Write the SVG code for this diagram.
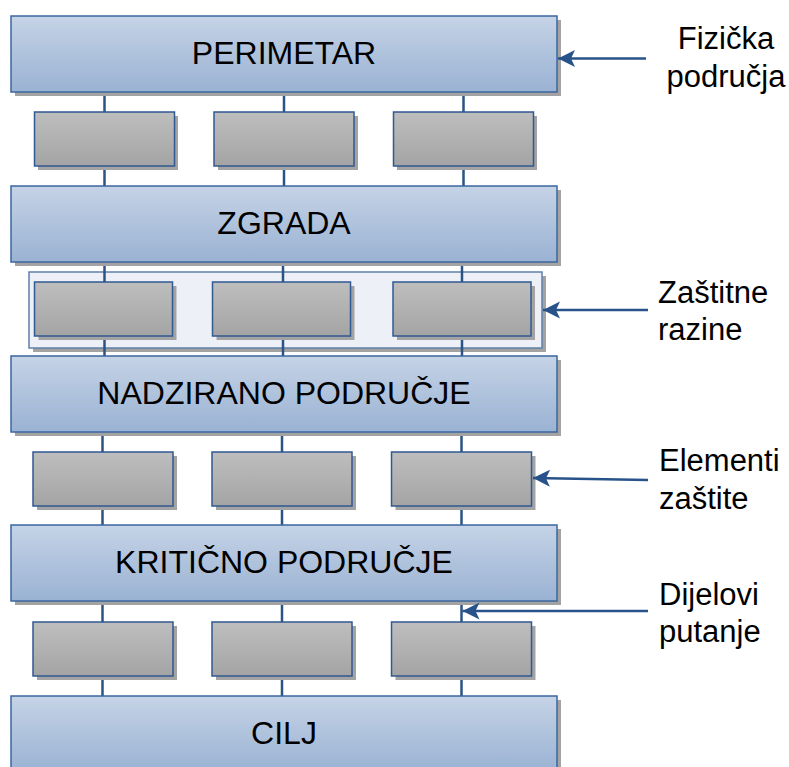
<svg xmlns="http://www.w3.org/2000/svg" width="789" height="767" viewBox="0 0 789 767">
<defs>
<linearGradient id="gBlue" x1="0" y1="0" x2="0" y2="1"><stop offset="0" stop-color="#C5D3E6"/><stop offset="1" stop-color="#9AB2D3"/></linearGradient>
<linearGradient id="gGray" x1="0" y1="0" x2="0" y2="1"><stop offset="0" stop-color="#BEBEBE"/><stop offset="1" stop-color="#A4A4A4"/></linearGradient>
<marker id="arr" markerUnits="userSpaceOnUse" markerWidth="20" markerHeight="20" refX="17" refY="8.5" orient="auto"><path d="M17,8.5 L0,0 L4,8.5 L0,17 Z" fill="#28528A"/></marker>
</defs>
<style>
.big{fill:url(#gBlue);stroke:#3A67A0;stroke-width:1.5}
.sm{fill:url(#gGray);stroke:#2F5A92;stroke-width:1.5}
.sh{fill:#A3A3A3}
.cont{fill:#EDF1F7;stroke:#5F80AA;stroke-width:1.5}
.con line{stroke:#2B5384;stroke-width:2.5}
.arrow{stroke:#28528A;stroke-width:2.5;fill:none;marker-end:url(#arr)}
.lbl{font-family:"Liberation Sans",Arial,sans-serif;font-size:32px;fill:#000;text-anchor:middle}
.side{font-family:"Liberation Sans",Arial,sans-serif;font-size:31px;fill:#000}
</style>
<rect width="789" height="767" fill="#fff"/>
<g id="container">
<rect class="sh" x="33" y="276" width="513" height="76"/>
<rect class="cont" x="29" y="272" width="513" height="76"/>
</g>
<g class="con" id="connectors">
<line x1="104.5" y1="92" x2="104.5" y2="112"/><line x1="284" y1="92" x2="284" y2="112"/><line x1="463.5" y1="92" x2="463.5" y2="112"/>
<line x1="104.5" y1="166" x2="104.5" y2="186"/><line x1="284" y1="166" x2="284" y2="186"/><line x1="463.5" y1="166" x2="463.5" y2="186"/>
<line x1="104.5" y1="262" x2="104.5" y2="282"/><line x1="283" y1="262" x2="283" y2="282"/><line x1="462" y1="262" x2="462" y2="282"/>
<line x1="104.5" y1="336" x2="104.5" y2="356"/><line x1="283" y1="336" x2="283" y2="356"/><line x1="462" y1="336" x2="462" y2="356"/>
<line x1="102.5" y1="432" x2="102.5" y2="452"/><line x1="282" y1="432" x2="282" y2="452"/><line x1="461.5" y1="432" x2="461.5" y2="452"/>
<line x1="102.5" y1="506" x2="102.5" y2="525"/><line x1="282" y1="506" x2="282" y2="525"/><line x1="461.5" y1="506" x2="461.5" y2="525"/>
<line x1="102.5" y1="601" x2="102.5" y2="622"/><line x1="282" y1="601" x2="282" y2="622"/><line x1="461.5" y1="601" x2="461.5" y2="622"/>
<line x1="102.5" y1="676" x2="102.5" y2="696"/><line x1="282" y1="676" x2="282" y2="696"/><line x1="461.5" y1="676" x2="461.5" y2="696"/>
</g>
<g id="perimetar"><rect class="sh" x="15" y="20" width="546" height="76"/><rect class="big" x="11" y="16" width="546" height="76"/><text class="lbl" x="284" y="64">PERIMETAR</text></g>
<g id="r1a"><rect class="sh" x="38" y="116" width="140" height="54"/><rect class="sm" x="34.5" y="112" width="140" height="54"/></g>
<g id="r1b"><rect class="sh" x="218" y="116" width="140" height="54"/><rect class="sm" x="214" y="112" width="140" height="54"/></g>
<g id="r1c"><rect class="sh" x="397" y="116" width="140" height="54"/><rect class="sm" x="393.5" y="112" width="140" height="54"/></g>
<g id="zgrada"><rect class="sh" x="15" y="190" width="546" height="76"/><rect class="big" x="11" y="186" width="546" height="76"/><text class="lbl" x="284" y="234">ZGRADA</text></g>
<g id="r2a"><rect class="sh" x="38.5" y="286" width="138" height="54"/><rect class="sm" x="34.5" y="282" width="138" height="54"/></g>
<g id="r2b"><rect class="sh" x="216.5" y="286" width="138" height="54"/><rect class="sm" x="212.5" y="282" width="138" height="54"/></g>
<g id="r2c"><rect class="sh" x="397" y="286" width="138" height="54"/><rect class="sm" x="393" y="282" width="138" height="54"/></g>
<g id="nadzirano"><rect class="sh" x="15" y="360" width="546" height="76"/><rect class="big" x="11" y="356" width="546" height="76"/><text class="lbl" x="284" y="404">NADZIRANO PODRUČJE</text></g>
<g id="r3a"><rect class="sh" x="37" y="456" width="140" height="54"/><rect class="sm" x="33" y="452" width="140" height="54"/></g>
<g id="r3b"><rect class="sh" x="216" y="456" width="140" height="54"/><rect class="sm" x="212" y="452" width="140" height="54"/></g>
<g id="r3c"><rect class="sh" x="395.5" y="456" width="140" height="54"/><rect class="sm" x="391.5" y="452" width="140" height="54"/></g>
<g id="kriticno"><rect class="sh" x="15" y="529" width="546" height="76"/><rect class="big" x="11" y="525" width="546" height="76"/><text class="lbl" x="284" y="573">KRITIČNO PODRUČJE</text></g>
<g id="r4a"><rect class="sh" x="37" y="626" width="140" height="54"/><rect class="sm" x="33" y="622" width="140" height="54"/></g>
<g id="r4b"><rect class="sh" x="216" y="626" width="140" height="54"/><rect class="sm" x="212" y="622" width="140" height="54"/></g>
<g id="r4c"><rect class="sh" x="395.5" y="626" width="140" height="54"/><rect class="sm" x="391.5" y="622" width="140" height="54"/></g>
<g id="cilj"><rect class="sh" x="15" y="700" width="546" height="76"/><rect class="big" x="11" y="696" width="546" height="76"/><text class="lbl" x="284" y="744">CILJ</text></g>
<g id="arrows">
<line class="arrow" x1="646" y1="58.5" x2="558" y2="58.5"/>
<line class="arrow" x1="648" y1="310" x2="543" y2="310"/>
<line class="arrow" x1="648" y1="480" x2="533" y2="478"/>
<line class="arrow" x1="648" y1="611" x2="462.5" y2="611"/>
</g>
<g id="labels">
<text class="side" x="726" y="49.3" text-anchor="middle">Fizička</text>
<text class="side" x="726" y="86.7" text-anchor="middle">područja</text>
<text class="side" x="658" y="302.7">Zaštitne</text>
<text class="side" x="658" y="340">razine</text>
<text class="side" x="659" y="471">Elementi</text>
<text class="side" x="659" y="508.5">zaštite</text>
<text class="side" x="659" y="605">Dijelovi</text>
<text class="side" x="659" y="641.7">putanje</text>
</g>
</svg>
